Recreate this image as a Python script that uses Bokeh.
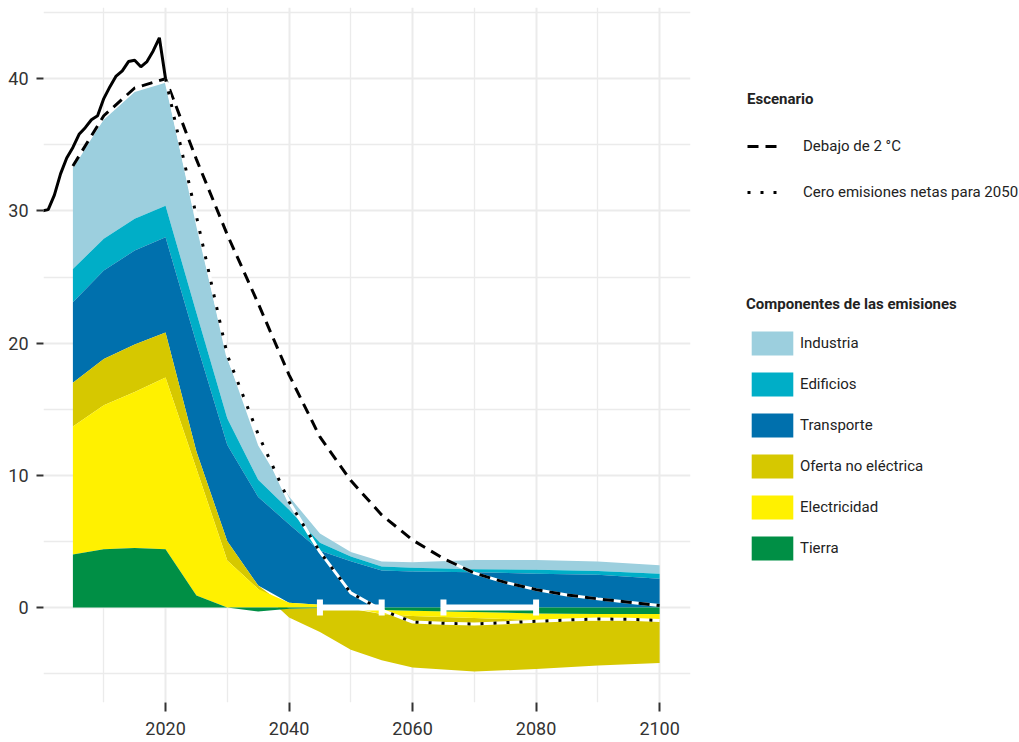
import numpy as np
from bokeh.plotting import figure
from bokeh.layouts import row
from bokeh.models import Range1d, FixedTicker, Legend, LegendItem
from bokeh.embed import file_html
from bokeh.resources import INLINE

# ---------------- data ----------------
hist_years = list(range(2000, 2021))
hist_co2 = [30.0, 30.1, 31.2, 32.8, 34.0, 34.8, 35.8, 36.3, 36.9, 37.2, 38.5,
            39.4, 40.2, 40.6, 41.3, 41.4, 40.9, 41.3, 42.1, 43.1, 40.0]

dash_years = [2005, 2010, 2015, 2020, 2025, 2030, 2035, 2040, 2045, 2050, 2055,
              2060, 2065, 2070, 2075, 2080, 2085, 2090, 2095, 2100]
dash_vals = [33.4, 37.2, 39.3, 40.0, 33.9, 28.2, 23.0, 17.6, 12.9, 9.6, 7.0,
             5.1, 3.7, 2.6, 1.9, 1.35, 0.95, 0.65, 0.4, 0.15]

dot_years = [2020, 2025, 2030, 2035, 2040, 2045, 2050, 2055, 2060, 2065, 2070,
             2075, 2080, 2085, 2090, 2095, 2100]
dot_vals = [40.0, 29.6, 19.1, 13.1, 8.0, 4.2, 1.1, -0.2, -1.1, -1.2, -1.25,
            -1.15, -1.05, -0.95, -0.87, -0.9, -0.98]

comp_years = [2005, 2010, 2015, 2020, 2025, 2030, 2035, 2040, 2045, 2050, 2055,
              2060, 2070, 2080, 2090, 2100]
tierra = [4.0, 4.4, 4.5, 4.4, 0.9, 0.0, -0.3, -0.1, -0.05, -0.1, -0.2, -0.25,
          -0.35, -0.45, -0.5, -0.5]
electricidad = [9.7, 10.9, 11.8, 13.0, 9.6, 3.55, 1.4, 0.35, 0.2, 0.05, -0.3,
                -0.4, -0.45, -0.5, -0.5, -0.45]
oferta = [3.3, 3.5, 3.6, 3.4, 1.3, 1.45, 0.26, -0.65, -1.8, -3.1, -3.5, -3.9,
          -4.05, -3.7, -3.4, -3.25]
transporte = [6.1, 6.7, 7.1, 7.2, 8.2, 7.3, 6.7, 5.95, 4.1, 3.45, 2.8, 2.72,
              2.67, 2.55, 2.47, 2.17]
edificios = [2.5, 2.4, 2.4, 2.4, 2.3, 2.0, 1.3, 1.1, 0.6, 0.35, 0.3, 0.28,
             0.23, 0.3, 0.28, 0.38]
industria = [7.8, 9.0, 9.6, 9.3, 6.5, 4.6, 2.6, 1.0, 0.7, 0.35, 0.38, 0.43,
             0.7, 0.75, 0.73, 0.65]

nz_start = [2045, 2065]
nz_end = [2055, 2080]

comp_names = ["Tierra", "Electricidad", "Oferta no eléctrica", "Transporte",
              "Edificios", "Industria"]
comp_values = [tierra, electricidad, oferta, transporte, edificios, industria]
comp_colors = ["#008f45", "#fff100", "#d6c800", "#0070ad", "#00aec7", "#9ccfde"]

scen_labels = ["Debajo de 2 °C", "Cero emisiones netas para 2050"]

x_ticks = [2020, 2040, 2060, 2080, 2100]
x_minor = [2010, 2030, 2050, 2070, 2090]
y_ticks = [0, 10, 20, 30, 40]
y_minor = [-5, 5, 15, 25, 35, 45]

FONT = "Roboto, sans-serif"

# ---------------- main figure ----------------
p = figure(width=700, height=742, output_backend="svg", toolbar_location=None,
           x_range=Range1d(2000.24, 2105.0), y_range=Range1d(-7.19, 45.39),
           min_border_left=43, min_border_right=10, min_border_top=7,
           min_border_bottom=40)
p.outline_line_color = None
p.background_fill_color = "white"
p.border_fill_color = "white"

# stacked areas (positive and negative stacked separately)
n = len(comp_years)
pos = np.zeros(n)
neg = np.zeros(n)
bands = []
for vals in comp_values:
    v = np.array(vals, dtype=float)
    lo = np.where(v >= 0, pos, neg + v)
    hi = np.where(v >= 0, pos + v, neg)
    pos = pos + np.where(v >= 0, v, 0.0)
    neg = neg + np.where(v < 0, v, 0.0)
    bands.append((lo, hi))

for (lo, hi), color in reversed(list(zip(bands, comp_colors))):
    p.varea(x=comp_years, y1=lo, y2=hi, fill_color=color)

# scenario lines
p.line(dash_years, dash_vals, line_color="white", line_width=3)
p.line(dash_years, dash_vals, line_color="black", line_width=3, line_dash="11 7")
p.line(dot_years, dot_vals, line_color="white", line_width=3)
p.line(dot_years, dot_vals, line_color="black", line_width=3, line_dash="3 10")
p.line(hist_years, hist_co2, line_color="black", line_width=3)

# net-zero ranges
p.segment(x0=nz_start, y0=[0] * len(nz_start), x1=nz_end, y1=[0] * len(nz_end),
          line_color="white", line_width=6)
p.rect(x=nz_start + nz_end, y=[0] * (len(nz_start) + len(nz_end)), width=6,
       height=16, width_units="screen", height_units="screen",
       fill_color="white", line_color=None)

# axes & grid
p.xaxis.ticker = FixedTicker(ticks=x_ticks, minor_ticks=x_minor)
p.yaxis.ticker = FixedTicker(ticks=y_ticks, minor_ticks=y_minor)
for ax in (p.xaxis[0], p.yaxis[0]):
    ax.axis_line_color = None
    ax.major_tick_line_color = "#333333"
    ax.major_tick_line_width = 2
    ax.major_tick_in = 0
    ax.minor_tick_line_color = None
    ax.major_label_text_font = FONT
    ax.major_label_text_font_size = "18px"
    ax.major_label_text_color = "#333333"
p.xaxis.major_tick_out = 9
p.xaxis.major_label_standoff = 10
p.yaxis.major_tick_out = 7
p.yaxis.major_label_standoff = 8

for g in (p.xgrid[0], p.ygrid[0]):
    g.grid_line_color = "#ebebeb"
    g.grid_line_width = 2
    g.minor_grid_line_color = "#ebebeb"
    g.minor_grid_line_width = 1.3

# ---------------- legend panel ----------------
# legend proxies: the same series, drawn outside this panel's visible range
q = figure(width=319, height=742, output_backend="svg", toolbar_location=None,
           x_range=Range1d(0, 1), y_range=Range1d(0, 1),
           min_border=0, min_border_left=0, min_border_right=0,
           min_border_top=0, min_border_bottom=0)
q.axis.visible = False
q.grid.visible = False
q.outline_line_color = None
q.background_fill_color = "white"
q.border_fill_color = "white"

l_dash = q.line(dash_years, dash_vals, line_color="black", line_width=3,
                line_dash="11 7")
l_dot = q.line(dot_years, dot_vals, line_color="black", line_width=3,
               line_dash="3 10")
swatch = {}
for name, (lo, hi), color in zip(comp_names, bands, comp_colors):
    swatch[name] = q.varea(x=comp_years, y1=lo, y2=hi, fill_color=color)

leg1 = Legend(items=[LegendItem(label=scen_labels[0], renderers=[l_dash]),
                     LegendItem(label=scen_labels[1], renderers=[l_dot])],
              title="Escenario", location=(47, 500))
leg1.glyph_width = 36
leg1.glyph_height = 20
leg1.label_height = 20
leg1.spacing = 26
leg1.label_standoff = 20
leg1.title_standoff = 28

leg2 = Legend(items=[LegendItem(label=nm, renderers=[swatch[nm]])
                     for nm in reversed(comp_names)],
              title="Componentes de las emisiones", location=(46, 139))
leg2.glyph_width = 52
leg2.glyph_height = 30
leg2.label_height = 30
leg2.spacing = 11
leg2.label_standoff = 2
leg2.title_standoff = 15

for lg in (leg1, leg2):
    lg.padding = 0
    lg.margin = 0
    lg.border_line_color = None
    lg.background_fill_alpha = 0
    lg.title_text_font = FONT
    lg.title_text_font_style = "bold"
    lg.title_text_font_size = "15px"
    lg.title_text_color = "#222222"
    lg.label_text_font = FONT
    lg.label_text_font_size = "15px"
    lg.label_text_color = "#222222"
    q.add_layout(lg)

layout = row(p, q, spacing=0)
open("out.html", "w").write(file_html(layout, INLINE))
